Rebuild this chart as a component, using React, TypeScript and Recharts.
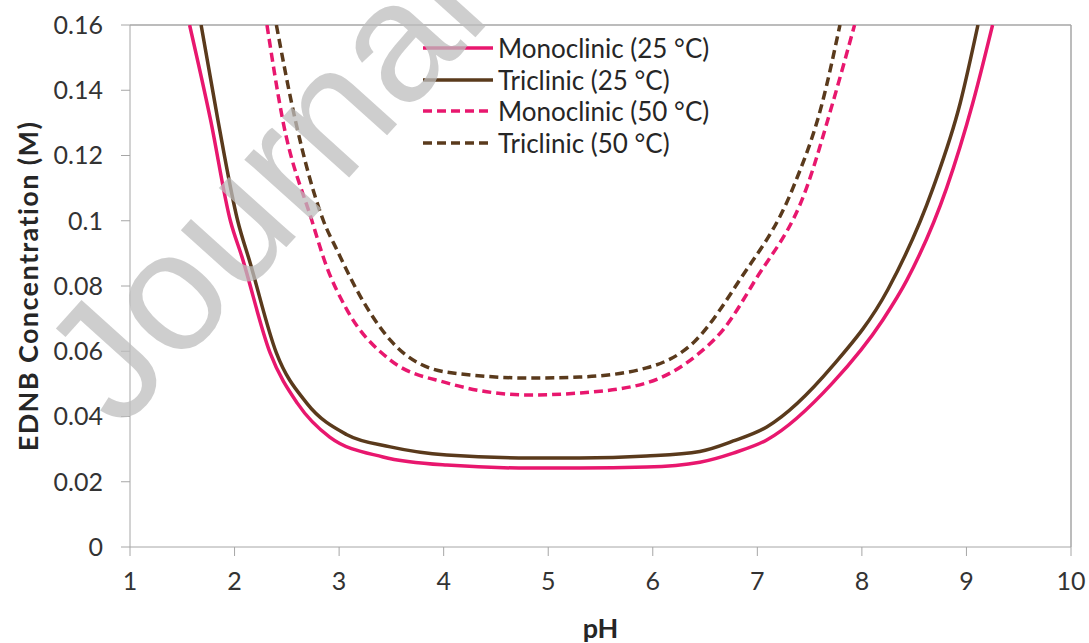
import React from "react";
import { LineChart, Line, XAxis, YAxis, ReferenceLine } from "recharts";

// pH vs EDNB solubility curves, four polymorph/temperature cases
const mono25Ph = [1.57, 1.77, 1.96, 2.07, 2.34, 2.6, 2.91, 3.42, 4.03, 4.82, 5.3, 5.94, 6.45, 6.77, 7.09, 7.72, 8.2, 8.43, 8.81, 9.06, 9.25];
const mono25Conc = [0.16, 0.131, 0.1, 0.089, 0.0595, 0.0441, 0.0337, 0.0276, 0.0251, 0.0242, 0.0242, 0.0245, 0.026, 0.0288, 0.0328, 0.0503, 0.0696, 0.0818, 0.11, 0.136, 0.16];

const tri25Ph = [1.68, 1.84, 2.03, 2.15, 2.4, 2.69, 3.07, 3.49, 4.03, 4.82, 5.3, 5.94, 6.45, 6.77, 7.09, 7.72, 8.25, 8.68, 8.94, 9.11];
const tri25Conc = [0.16, 0.131, 0.1, 0.087, 0.0595, 0.0441, 0.0345, 0.0307, 0.0282, 0.0273, 0.0273, 0.0279, 0.0293, 0.0325, 0.0368, 0.0555, 0.079, 0.11, 0.136, 0.16];

const mono50Ph = [2.31, 2.46, 2.74, 2.88, 3.07, 3.49, 4.03, 4.82, 5.3, 5.94, 6.42, 6.67, 6.98, 7.47, 7.72, 7.93];
const mono50Conc = [0.16, 0.131, 0.1, 0.086, 0.073, 0.0573, 0.0503, 0.0466, 0.0472, 0.0503, 0.0588, 0.0665, 0.0818, 0.11, 0.136, 0.16];

const tri50Ph = [2.4, 2.58, 2.85, 2.98, 3.2, 3.49, 4.03, 4.82, 5.3, 5.94, 6.4, 6.83, 7.34, 7.62, 7.79];
const tri50Conc = [0.16, 0.131, 0.1, 0.091, 0.077, 0.0634, 0.0536, 0.0518, 0.0521, 0.0549, 0.063, 0.0818, 0.11, 0.136, 0.16];

const xTicks = [1, 2, 3, 4, 5, 6, 7, 8, 9, 10];
const yTicks = [0, 0.02, 0.04, 0.06, 0.08, 0.1, 0.12, 0.14, 0.16];

const PINK = "#e8176e";
const BROWN = "#5a3a1c";
const AXIS = "#a6a6a6";
const FONT = "Lato, 'Open Sans', sans-serif";

const toPoints = (ph: number[], conc: number[]) =>
  ph.map((p, i) => ({ ph: p, conc: conc[i] }));

const series = [
  { name: "Monoclinic (25 °C)", data: toPoints(mono25Ph, mono25Conc), color: PINK, dash: undefined },
  { name: "Triclinic (25 °C)", data: toPoints(tri25Ph, tri25Conc), color: BROWN, dash: undefined },
  { name: "Monoclinic (50 °C)", data: toPoints(mono50Ph, mono50Conc), color: PINK, dash: "9 5" },
  { name: "Triclinic (50 °C)", data: toPoints(tri50Ph, tri50Conc), color: BROWN, dash: "9 5" },
];

function LegendBox() {
  return (
    <div
      style={{
        position: "absolute",
        left: 421,
        top: 32,
        fontFamily: FONT,
        fontSize: 26,
        color: "#262626",
        lineHeight: 1,
      }}
    >
      {series.map((s) => (
        <div key={s.name} style={{ display: "flex", alignItems: "center", height: 31.7 }}>
          <svg width={74} height={10} style={{ marginRight: 3 }}>
            <line x1={2} y1={5} x2={72} y2={5} stroke={s.color} strokeWidth={3.5} strokeDasharray={s.dash} />
          </svg>
          <span>{s.name}</span>
        </div>
      ))}
    </div>
  );
}

export default function App() {
  return (
    <div style={{ position: "absolute", left: 0, top: 0, width: 1089, height: 643, background: "#fff" }}>
      <LineChart width={1089} height={643} margin={{ top: 25, right: 18, bottom: 36, left: 0 }}>
        <XAxis
          type="number"
          dataKey="ph"
          domain={[1, 10]}
          ticks={xTicks}
          allowDuplicatedCategory={false}
          height={60}
          stroke={AXIS}
          tickSize={9}
          tick={{ fill: "#333", fontSize: 25, fontFamily: FONT, dy: 14 }}
          label={{ value: "pH", position: "insideBottom", offset: -31, fill: "#262626", fontSize: 27, fontWeight: 700, fontFamily: FONT }}
        />
        <YAxis
          type="number"
          dataKey="conc"
          domain={[0, 0.16]}
          ticks={yTicks}
          allowDataOverflow
          width={130}
          stroke={AXIS}
          tickSize={9}
          tick={{ fill: "#333", fontSize: 25, fontFamily: FONT, dx: -16 }}
          label={{
            value: "EDNB Concentration (M)",
            angle: -90,
            position: "insideLeft",
            offset: 28,
            style: { textAnchor: "middle", fill: "#262626", fontSize: 27, fontWeight: 700, fontFamily: FONT, letterSpacing: 1.4 },
          }}
        />
        <ReferenceLine y={0.16} stroke={AXIS} strokeWidth={1.5} />
        <ReferenceLine x={10} stroke={AXIS} strokeWidth={1.5} />
        {series.map((s) => (
          <Line
            key={s.name}
            data={s.data}
            dataKey="conc"
            name={s.name}
            type="monotone"
            stroke={s.color}
            strokeWidth={3.5}
            strokeDasharray={s.dash}
            dot={false}
            isAnimationActive={false}
          />
        ))}
      </LineChart>
      <LegendBox />
      <svg width={1089} height={643} style={{ position: "absolute", left: 0, top: 0, pointerEvents: "none" }}>
        <text
          x={120}
          y={432}
          transform="rotate(-48 120 432)"
          fontFamily="'Liberation Sans', Arial, sans-serif"
          fontSize={170}
          fill="#bdbdbd"
          fillOpacity={0.75}
        >
          Journal Pre-proof
        </text>
      </svg>
    </div>
  );
}
